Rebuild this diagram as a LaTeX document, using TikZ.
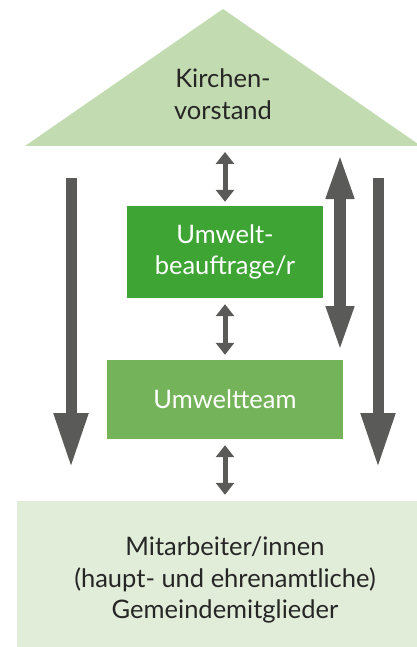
\documentclass[tikz,border=0pt]{standalone}
\usepackage{fontspec}
\setmainfont{Lato}
\usetikzlibrary{arrows.meta}

\definecolor{roofgreen}{HTML}{C2DBB0}
\definecolor{darkgreen}{HTML}{3EA535}
\definecolor{midgreen}{HTML}{75B35A}
\definecolor{palegreen}{HTML}{E1ECD9}
\definecolor{arrowgray}{HTML}{5A5A58}

\begin{document}
\begin{tikzpicture}[
        x=1pt,
        y=-1pt,
        font=\fontsize{25.5}{31.5}\selectfont,
        box/.style={
            rectangle,
            align=center,
            inner sep=0pt,
        },
        box-dark/.style={
            box,
            fill=darkgreen,
            text=white,
        },
        box-mid/.style={
            box,
            fill=midgreen,
            text=white,
        },
        box-base/.style={
            box,
            fill=palegreen,
            text=black!85,
        },
        arrow-small/.style={
            arrowgray,
            line width=5pt,
            >={Triangle[width=18pt,length=12pt]},
            <->,
        },
        arrow-double/.style={
            arrowgray,
            line width=12pt,
            >={Triangle[width=25pt,length=47pt]},
            <->,
        },
        arrow-big/.style={
            arrowgray,
            line width=11pt,
            -{Triangle[width=32pt,length=55pt]},
        },
    ]

    \clip (0,0) rectangle (417,647);
    \useasboundingbox (0,0) rectangle (417,647);

    % Roof.
    \fill[roofgreen] (25,146) -- (223,9) -- (421,146) -- cycle;
    \node[box, text=black!85] (vorstand) at (223,94) {Kirchen-\\vorstand};
    \coordinate (roof-base) at (225,146);

    % Boxes.
    \node[box-dark, minimum width=196pt, minimum height=92pt]
        (beauftragte) at (225,252) {Umwelt-\\beauftrage/r};
    \node[box-mid, minimum width=236pt, minimum height=79pt]
        (team) at (225,399.5) {Umweltteam};
    \node[box-base, minimum width=416pt, minimum height=158pt]
        (basis) at (225,580) {Mitarbeiter/innen\\(haupt- und ehrenamtliche)\\Gemeindemitglieder};

    % Small links.
    \draw[arrow-small, shorten <=6pt, shorten >=4pt] (roof-base) -- (beauftragte.north);
    \draw[arrow-small, shorten <=6pt, shorten >=5pt] (beauftragte.south) -- (team.north);
    \draw[arrow-small, shorten <=6pt, shorten >=6pt] (team.south) -- (basis.north);

    % Long links.
    \coordinate (double-top) at (340,152);
    \coordinate (double-bottom) at (340,353);
    \draw[arrow-double] (double-top) -- (double-bottom);

    \foreach \name/\x in {left/71, right/378} {
        \coordinate (\name-top) at (\x,178);
        \coordinate (\name-bottom) at (\x,468);
        \draw[arrow-big] (\name-top) -- (\name-bottom);
    }
\end{tikzpicture}
\end{document}
